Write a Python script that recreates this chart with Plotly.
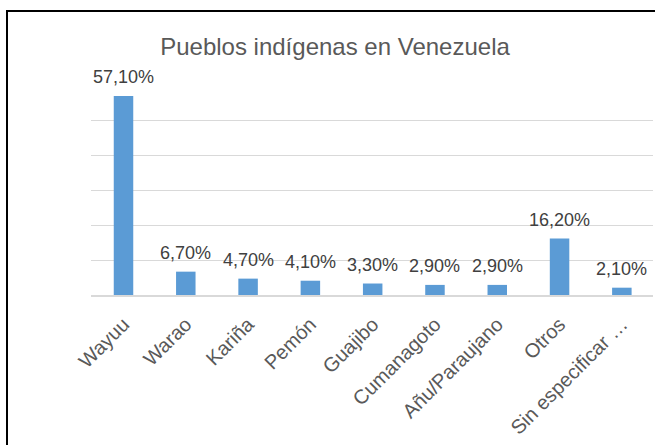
import plotly.graph_objects as go

categories = ["Wayuu", "Warao", "Kariña", "Pemón", "Guajibo", "Cumanagoto",
              "Añu/Paraujano", "Otros", "Sin especificar …"]
values = [57.1, 6.7, 4.7, 4.1, 3.3, 2.9, 2.9, 16.2, 2.1]
labels = ["57,10%", "6,70%", "4,70%", "4,10%", "3,30%", "2,90%", "2,90%", "16,20%", "2,10%"]

W, H = 655, 445
L, R, T, B = 91, 2, 86, 150
pw, ph = W - L - R, H - T - B
FONT = "Liberation Sans, Arial, sans-serif"

fig = go.Figure()
fig.add_trace(go.Bar(
    x=categories, y=values,
    marker=dict(color="#5B9BD5", line=dict(width=0)),
    width=0.313,
    hoverinfo="skip",
))

for c, v, t in zip(categories, values, labels):
    fig.add_annotation(x=c, y=v, text=t, showarrow=False, yanchor="bottom",
                       yshift=7, font=dict(size=18, color="#404040", family=FONT))

fig.add_shape(type="rect", xref="paper", yref="paper",
              x0=(7 - L) / pw, x1=1.2, y0=-2, y1=(H - B - 11) / ph,
              line=dict(color="black", width=2), layer="above")

fig.update_layout(
    width=W, height=H,
    margin=dict(l=L, r=R, t=T, b=B),
    paper_bgcolor="white", plot_bgcolor="white",
    showlegend=False,
    font=dict(family=FONT, color="#595959"),
    title=dict(text="Pueblos indígenas en Venezuela", x=335 / W, xanchor="center",
               xref="container", yref="container", y=1 - 47 / H, yanchor="middle",
               font=dict(size=24, color="#595959")),
)
fig.update_xaxes(tickangle=-45, tickfont=dict(size=20, color="#595959"),
                 showline=True, linecolor="#D9D9D9", linewidth=1.5,
                 ticks="", showgrid=False, ticklabelstandoff=8)
fig.update_yaxes(range=[0, 60], dtick=10, showgrid=True, gridcolor="#D9D9D9",
                 gridwidth=1, showticklabels=False, zeroline=False, ticks="")

fig.write_html("out.html", config={"displayModeBar": False},
               post_script="document.body.style.margin='0';")
